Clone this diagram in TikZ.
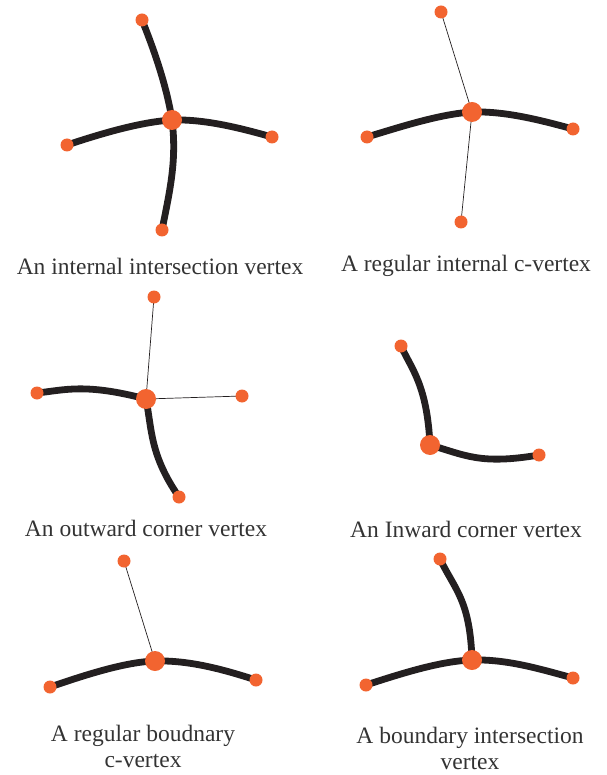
\documentclass[tikz,border=0pt]{standalone}
\usepackage{fontspec}
\setmainfont{Liberation Serif}
\definecolor{dotc}{HTML}{F26430}
\definecolor{linec}{HTML}{231F20}
\definecolor{textc}{HTML}{333333}
\begin{document}
\begin{tikzpicture}[x=1pt,y=-1pt,
  big/.style={circle,fill=dotc,inner sep=0pt,minimum size=20pt},
  small/.style={circle,fill=dotc,inner sep=0pt,minimum size=13pt},
  thick edge/.style={draw=linec,line width=6.8pt},
  thin edge/.style={draw=linec,line width=0.7pt},
  lbl/.style={text=textc,font=\fontsize{23.5}{26}\selectfont,align=center,inner sep=1pt}]
\useasboundingbox (0,0) rectangle (606,775);
% Panel 1
\coordinate (c1) at (172,120);
\coordinate (t1) at (142,20);
\coordinate (l1) at (67,145);
\coordinate (r1) at (272,137);
\coordinate (b1) at (162,230);
\draw[thick edge] (t1) .. controls (155,52) and (167,88) .. (c1);
\draw[thick edge] (l1) .. controls (100,134) and (140,122) .. (c1);
\draw[thick edge] (c1) .. controls (205,119) and (240,128) .. (r1);
\draw[thick edge] (c1) .. controls (177,160) and (170,190) .. (b1);
\node[small] at (t1) {};
\node[small] at (l1) {};
\node[small] at (r1) {};
\node[small] at (b1) {};
\node[big] (n1) at (c1) {};
\node[lbl] (L1) at (160,266) {An internal intersection vertex};
% Panel 2
\coordinate (c2) at (472,112);
\coordinate (t2) at (441,12);
\coordinate (l2) at (367,137);
\coordinate (r2) at (573,129);
\coordinate (b2) at (461,222);
\draw[thin edge] (t2) -- (c2);
\draw[thin edge] (c2) -- (b2);
\draw[thick edge] (l2) .. controls (400,127) and (440,114) .. (c2);
\draw[thick edge] (c2) .. controls (505,111) and (540,120) .. (r2);
\node[small] at (t2) {};
\node[small] at (l2) {};
\node[small] at (r2) {};
\node[small] at (b2) {};
\node[big] (n2) at (c2) {};
\node[lbl] (L2) at (466,266) {A regular internal c-vertex};
% Panel 3
\coordinate (c3) at (146,399);
\coordinate (t3) at (154,297);
\coordinate (l3) at (37,393);
\coordinate (r3) at (242,396);
\coordinate (b3) at (179,497);
\draw[thin edge] (t3) -- (c3);
\draw[thin edge] (c3) -- (r3);
\draw[thick edge] (l3) .. controls (65,390) and (85,383) .. (c3);
\draw[thick edge] (c3) .. controls (152,430) and (150,455) .. (b3);
\node[small] at (t3) {};
\node[small] at (l3) {};
\node[small] at (r3) {};
\node[small] at (b3) {};
\node[big] (n3) at (c3) {};
\node[lbl] (L3) at (146,528) {An outward corner vertex};
% Panel 4
\coordinate (c4) at (430,445);
\coordinate (t4) at (401,346);
\coordinate (r4) at (539,455);
\draw[thick edge] (t4) .. controls (412,370) and (427,385) .. (c4);
\draw[thick edge] (c4) .. controls (465,455) and (480,465) .. (r4);
\node[small] at (t4) {};
\node[small] at (r4) {};
\node[big] (n4) at (c4) {};
\node[lbl] (L4) at (466,529) {An Inward corner vertex};
% Panel 5
\coordinate (c5) at (155,661);
\coordinate (t5) at (124,561);
\coordinate (l5) at (50,687);
\coordinate (r5) at (256,680);
\draw[thin edge] (t5) -- (c5);
\draw[thick edge] (l5) .. controls (85,675) and (125,662) .. (c5);
\draw[thick edge] (c5) .. controls (190,660) and (225,670) .. (r5);
\node[small] at (t5) {};
\node[small] at (l5) {};
\node[small] at (r5) {};
\node[big] (n5) at (c5) {};
\node[lbl] (L5) at (143,746) {A regular boudnary\\c-vertex};
% Panel 6
\coordinate (c6) at (472,660);
\coordinate (t6) at (440,559);
\coordinate (l6) at (366,685);
\coordinate (r6) at (573,678);
\draw[thick edge] (t6) .. controls (455,590) and (470,600) .. (c6);
\draw[thick edge] (l6) .. controls (400,674) and (440,661) .. (c6);
\draw[thick edge] (c6) .. controls (507,659) and (540,669) .. (r6);
\node[small] at (t6) {};
\node[small] at (l6) {};
\node[small] at (r6) {};
\node[big] (n6) at (c6) {};
\node[lbl] (L6) at (470,748) {A boundary intersection\\vertex};
\end{tikzpicture}
\end{document}
